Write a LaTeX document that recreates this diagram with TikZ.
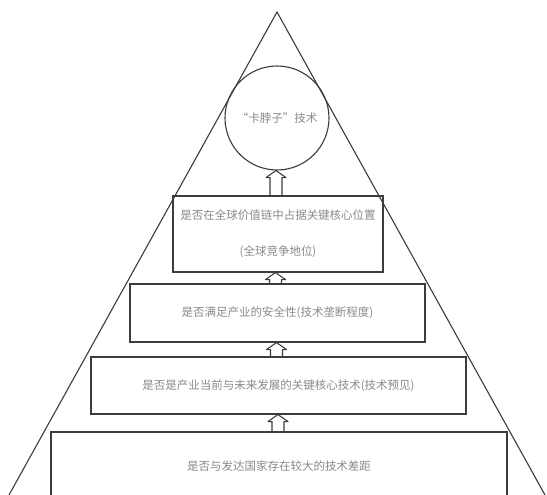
\documentclass[tikz,border=0pt]{standalone}
\usepackage{fontspec}
\newfontfamily\cjk{Noto Sans CJK SC}
\usetikzlibrary{calc}
\definecolor{linec}{HTML}{3C3C3C}
\definecolor{txtc}{HTML}{8A8A8A}
\tikzset{
  edge/.style={draw=linec, line width=1.1pt},
  lvl/.style={draw=linec, line width=1.1pt, inner sep=0pt, align=center,
    font=\cjk\fontsize{11.5}{36}\selectfont, text=txtc},
  goal/.style={circle, draw=linec, line width=1.1pt, inner sep=0pt,
    font=\cjk\fontsize{11.5}{14}\selectfont, text=txtc},
  arr/.style={draw=linec, line width=1.1pt, line join=round}
}
\newcommand\blockarrow[2]{%
  \draw[arr] let \p1=(#1), \p2=(#2) in
    (\x1-6pt,\y1) -- (\x1-6pt,\y2-7pt) -- (\x1-10pt,\y2-7pt)
    -- (\x1,\y2) -- (\x1+10pt,\y2-7pt) -- (\x1+6pt,\y2-7pt) -- (\x1+6pt,\y1);
}
\begin{document}
\begin{tikzpicture}[x=1pt,y=-1pt]
\useasboundingbox (0,0) rectangle (547,495);
\clip (0,0) rectangle (547,495);
\fill[white] (0,0) rectangle (547,495);
\coordinate (apex) at (277,12);
\coordinate (bl) at (9,495);
\coordinate (br) at (545,495);
\draw[edge] (bl) -- (apex) -- (br);
\node[goal, minimum size=104pt] (circ) at (277,118) {“卡脖子”技术};
\node[lvl, minimum width=210pt, minimum height=76pt] (b1) at (278,234)
  {是否在全球价值链中占据关键核心位置\\(全球竞争地位)};
\node[lvl, minimum width=295pt, minimum height=58pt] (b2) at (277.5,313)
  {是否满足产业的安全性(技术垄断程度)};
\node[lvl, minimum width=375pt, minimum height=57pt] (b3) at (278.5,385.5)
  {是否是产业当前与未来发展的关键核心技术(技术预见)};
\node[lvl, minimum width=456pt, minimum height=68pt] (b4) at (279,466)
  {是否与发达国家存在较大的技术差距};
\coordinate (a1) at ($(b1.north)+(-2,0)$);
\coordinate (a2) at ($(b2.north)+(-2,0)$);
\coordinate (a3) at ($(b3.north)+(-2,0)$);
\coordinate (a4) at ($(b4.north)+(-1,0)$);
\blockarrow{a1}{circ.south}
\blockarrow{a2}{b1.south}
\blockarrow{a3}{b2.south}
\blockarrow{a4}{b3.south}
\end{tikzpicture}
\end{document}
